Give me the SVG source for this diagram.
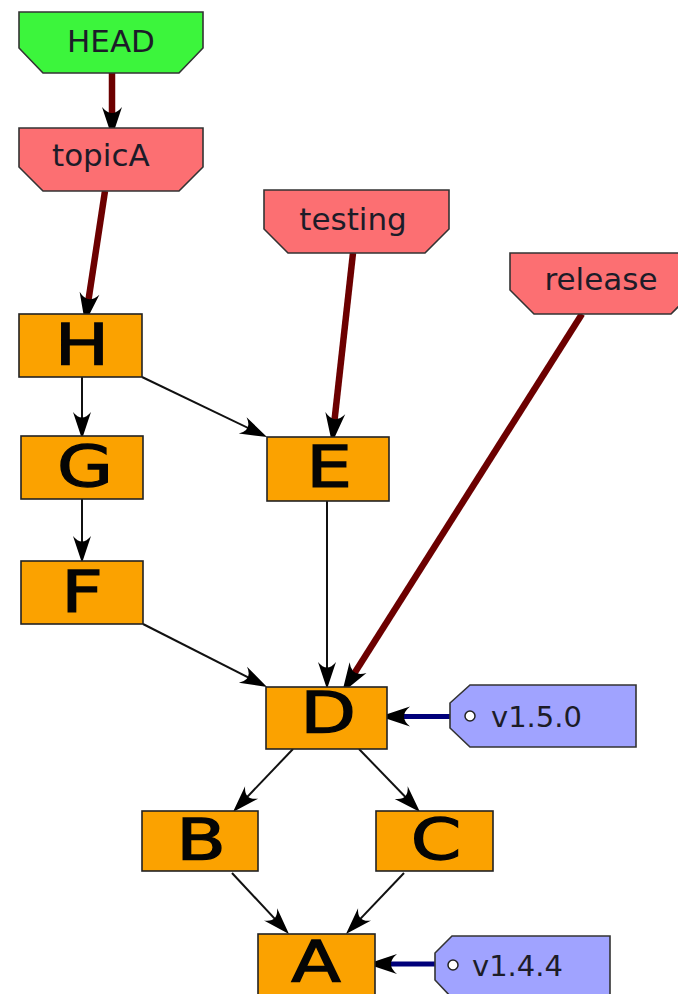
<svg xmlns="http://www.w3.org/2000/svg" width="678" height="994" viewBox="0 0 678 994">
<style>
.box{fill:#fba200;stroke:#222;stroke-width:1.6}
.lbl{font-family:"DejaVu Sans",sans-serif;font-size:31px;fill:#1c1c28}
.ltr{font-family:"DejaVu Sans",sans-serif;font-size:57px;fill:#050505;stroke:#050505;stroke-width:1.3;text-anchor:middle}
.head{fill:#3cf53c;stroke:#333;stroke-width:1.6}
.br{fill:#fc6f72;stroke:#333;stroke-width:1.6}
.tag{fill:#a0a3ff;stroke:#333;stroke-width:1.6}
.dot{fill:#fff;stroke:#222;stroke-width:1.5}
.red{stroke:#6c0000;stroke-width:6.5;fill:none}
.blue{stroke:#00007a;stroke-width:5;fill:none}
.thin{stroke:#111;stroke-width:2;fill:none}
</style>
<defs>
<marker id="ah" viewBox="-22 -13 36 26" refX="0" refY="0" markerWidth="36" markerHeight="26" markerUnits="userSpaceOnUse" orient="auto" overflow="visible">
<path d="M12,0 L-18,-10 Q-6,0 -18,10 Z" fill="#000"/>
</marker>
<marker id="as" viewBox="-22 -12 32 24" refX="0" refY="0" markerWidth="32" markerHeight="24" markerUnits="userSpaceOnUse" orient="auto" overflow="visible">
<path d="M7,0 L-20,-9 Q-9,0 -20,9 Z" fill="#000"/>
</marker>
</defs>

<g id="connectors">
<line class="red" x1="112" y1="73" x2="112" y2="125" marker-end="url(#ah)"/>
<line class="red" x1="105" y1="191" x2="86.8" y2="311.1" marker-end="url(#ah)"/>
<line class="red" x1="353" y1="253" x2="333.3" y2="431.1" marker-end="url(#ah)"/>
<line class="red" x1="582" y1="314" x2="348.4" y2="682.8" marker-end="url(#ah)"/>
<line class="blue" x1="450" y1="716.5" x2="392" y2="716.5" marker-end="url(#ah)"/>
<line class="blue" x1="435" y1="964" x2="379" y2="964" marker-end="url(#ah)"/>
<line class="thin" x1="82" y1="377" x2="82" y2="432" marker-end="url(#as)"/>
<line class="thin" x1="142" y1="377" x2="260.7" y2="434" marker-end="url(#as)"/>
<line class="thin" x1="82" y1="499" x2="82" y2="556" marker-end="url(#as)"/>
<line class="thin" x1="143" y1="624" x2="260.8" y2="683.8" marker-end="url(#as)"/>
<line class="thin" x1="327" y1="501" x2="327" y2="682" marker-end="url(#as)"/>
<line class="thin" x1="293" y1="749" x2="237.8" y2="806.9" marker-end="url(#as)"/>
<line class="thin" x1="359" y1="749" x2="415.1" y2="807" marker-end="url(#as)"/>
<line class="thin" x1="232" y1="873" x2="284.2" y2="928.9" marker-end="url(#as)"/>
<line class="thin" x1="404" y1="873" x2="350.8" y2="928.9" marker-end="url(#as)"/>
</g>

<g id="HEAD">
<path class="head" d="M19,12 H203 V48 L179,73 H43 L19,48 Z"/>
<text class="lbl" x="111" y="52" text-anchor="middle">HEAD</text>
</g>
<g id="topicA">
<path class="br" d="M19,128 H203 V167 L179,191 H43 L19,167 Z"/>
<text class="lbl" x="52" y="166">topicA</text>
</g>
<g id="testing">
<path class="br" d="M264,190 H449 V229 L425,253 H288 L264,229 Z"/>
<text class="lbl" x="353" y="230" text-anchor="middle">testing</text>
</g>
<g id="release">
<path class="br" d="M510,253 H695 V290 L671,314 H534 L510,290 Z"/>
<text class="lbl" x="601" y="290" text-anchor="middle">release</text>
</g>

<g id="H">
<rect class="box" x="19" y="314" width="123" height="63"/>
<text class="ltr" transform="translate(82,365) scale(1.27,1)">H</text>
</g>
<g id="G">
<rect class="box" x="21" y="436" width="122" height="63"/>
<text class="ltr" transform="translate(85,487) scale(1.27,1)">G</text>
</g>
<g id="F">
<rect class="box" x="21" y="561" width="122" height="63"/>
<text class="ltr" transform="translate(82,612) scale(1.27,1)">F</text>
</g>
<g id="E">
<rect class="box" x="267" y="437" width="122" height="64"/>
<text class="ltr" transform="translate(329,487) scale(1.27,1)">E</text>
</g>
<g id="D">
<rect class="box" x="266" y="687" width="121" height="62"/>
<text class="ltr" transform="translate(328,733) scale(1.27,1)">D</text>
</g>
<g id="B">
<rect class="box" x="142" y="811" width="116" height="60"/>
<text class="ltr" transform="translate(201,860) scale(1.27,1)">B</text>
</g>
<g id="C">
<rect class="box" x="376" y="811" width="117" height="60"/>
<text class="ltr" transform="translate(436,860) scale(1.27,1)">C</text>
</g>
<g id="A">
<rect class="box" x="258" y="934" width="117" height="62"/>
<text class="ltr" transform="translate(316,982) scale(1.27,1)">A</text>
</g>

<g id="v1.5.0">
<path class="tag" d="M470,685 H636 V747 H470 L450,728 V703 Z"/>
<circle class="dot" cx="470" cy="716" r="5"/>
<text class="lbl" x="491" y="727" style="font-size:29px">v1.5.0</text>
</g>
<g id="v1.4.4">
<path class="tag" d="M452,936 H610 V998 H452 L435,980 V953 Z"/>
<circle class="dot" cx="453" cy="965" r="5"/>
<text class="lbl" x="472" y="976" style="font-size:29px">v1.4.4</text>
</g>
</svg>
